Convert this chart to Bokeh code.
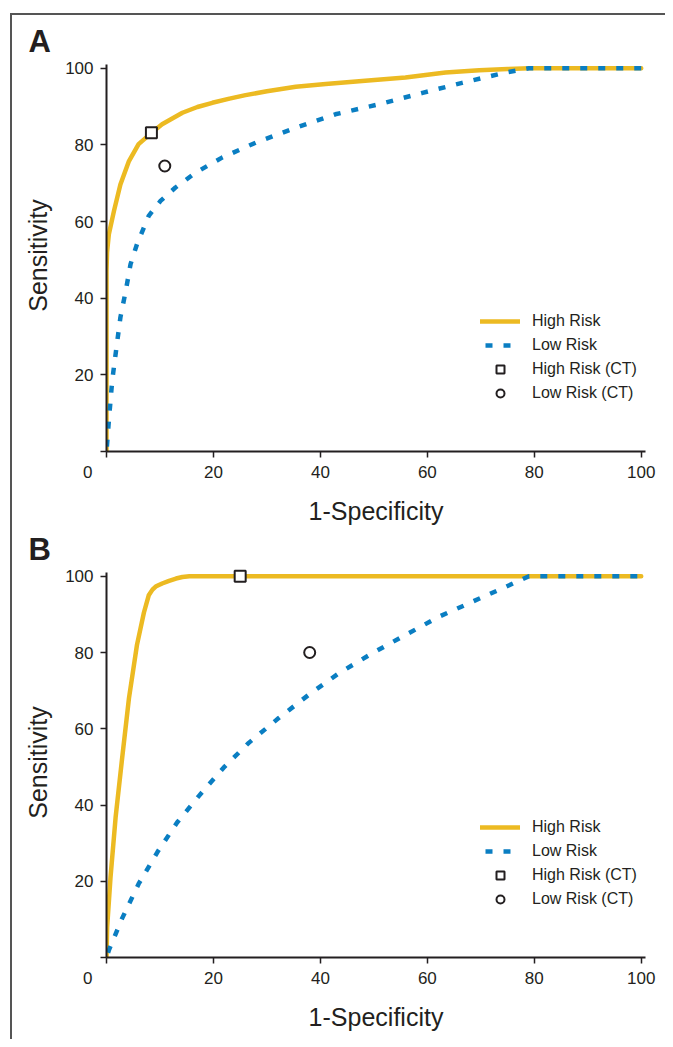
from bokeh.plotting import figure
from bokeh.models import Legend, LegendItem, FixedTicker, Range1d
from bokeh.layouts import column
from bokeh.embed import file_html
from bokeh.resources import INLINE

# ---------------- data ----------------
ticks = [0, 20, 40, 60, 80, 100]
# the shared origin "0" sits left of the corner, as in the original
x_tick_labels = {0: "0" + "\u00a0" * 8, 20: "20", 40: "40", 60: "60", 80: "80", 100: "100"}
y_tick_labels = {0: "", 20: "20", 40: "40", 60: "60", 80: "80", 100: "100"}

# Panel A
a_high_x = [0, 0, 0.1, 0.44, 1.4, 2.6, 4.2, 6.0, 8.2, 10.4, 14.2, 17.0, 19.8, 23.0, 26.0, 30.0, 35.4, 41.0, 47.8, 55.9, 63.4, 69.7, 75.0, 79.0, 100]
a_high_y = [0, 47, 52, 56.7, 62.8, 69.7, 75.8, 80.2, 82.9, 85.4, 88.4, 89.9, 91.0, 92.1, 93.0, 94.0, 95.2, 95.9, 96.7, 97.6, 98.9, 99.5, 99.8, 100, 100]
a_low_x = [0, 0.44, 1.06, 1.7, 2.6, 3.6, 4.5, 5.7, 7.9, 10.1, 12.9, 16.7, 21.6, 27.9, 35.4, 42.8, 50.9, 59.1, 66.5, 74.6, 79.0, 100]
a_low_y = [0, 8, 18.4, 25.4, 35, 41.9, 48.9, 54.1, 61.5, 65.4, 68.9, 72.8, 76.7, 80.6, 84.5, 88.0, 90.6, 93.6, 96.2, 98.9, 100, 100]
a_ct_high = (8.4, 83.2)
a_ct_low = (10.9, 74.5)

# Panel B
b_high_x = [0, 0.12, 0.75, 1.7, 2.9, 4.2, 5.7, 7.0, 7.9, 8.6, 9.2, 10.4, 11.7, 13.0, 14.2, 15.5, 100]
b_high_y = [0, 8, 21, 36.7, 52, 68, 82, 90.5, 95.0, 96.5, 97.3, 98.1, 98.8, 99.4, 99.8, 100, 100]
b_low_x = [0, 0.44, 2.9, 6.0, 9.5, 13.2, 17.3, 21.9, 26.6, 32.2, 37.8, 43.5, 49.7, 55.9, 62.2, 68.4, 74.6, 79.0, 100]
b_low_y = [0, 1.9, 10.2, 19.3, 27.6, 35.4, 42.4, 49.8, 56.3, 62.8, 68.9, 74.6, 79.8, 84.6, 89.4, 93.3, 97.2, 100, 100]
b_ct_high = (25.0, 100.0)
b_ct_low = (38.0, 80.0)

series_names = ["High Risk", "Low Risk", "High Risk (CT)", "Low Risk (CT)"]
x_label = "1-Specificity"
y_label = "Sensitivity"

# ---------------- style ----------------
YELLOW = "#ECBA22"
BLUE = "#0A7EC2"
INK = "#231F20"
SANS = "Liberation Sans"


def make_panel(letter, hx, hy, lx, ly, cth, ctl, height, top, bottom, title_standoff):
    p = figure(width=653, height=height, output_backend="svg", toolbar_location=None,
               x_range=Range1d(0, 100.8), y_range=Range1d(0, 102.3),
               min_border_left=94, min_border_right=20,
               min_border_top=top, min_border_bottom=bottom)
    p.outline_line_color = None
    p.xgrid.visible = False
    p.ygrid.visible = False
    p.background_fill_color = "white"
    p.border_fill_color = "white"

    p.title.text = letter
    p.title.align = "left"
    p.title.offset = -78
    p.title.text_font = SANS
    p.title.text_font_size = "31px"
    p.title.text_font_style = "bold"
    p.title.text_color = INK
    p.title.standoff = title_standoff

    for ax in (p.xaxis[0], p.yaxis[0]):
        ax.ticker = FixedTicker(ticks=ticks)
        ax.axis_line_color = INK
        ax.axis_line_width = 2
        ax.major_tick_line_color = INK
        ax.major_tick_line_width = 1.5
        ax.major_tick_out = 6
        ax.major_tick_in = 0
        ax.minor_tick_line_color = None
        ax.major_label_text_font = SANS
        ax.major_label_text_font_size = "17px"
        ax.major_label_text_color = INK
        ax.axis_label_text_font = SANS
        ax.axis_label_text_font_size = "25px"
        ax.axis_label_text_font_style = "normal"
        ax.axis_label_text_color = INK
    p.xaxis.major_label_overrides = x_tick_labels
    p.yaxis.major_label_overrides = y_tick_labels
    p.xaxis.bounds = (0, 100.8)
    p.yaxis.bounds = (0, 101)
    p.xaxis.axis_label = x_label
    p.yaxis.axis_label = y_label
    p.xaxis.major_label_standoff = 5
    p.xaxis.axis_label_standoff = 12
    p.yaxis.major_label_standoff = 7
    p.yaxis.axis_label_standoff = 10

    r_high = p.line(hx, hy, line_color=YELLOW, line_width=4.5, line_join="round", line_cap="round")
    r_low = p.line(lx, ly, line_color=BLUE, line_width=4.5, line_dash="7 11", line_dash_offset=13)
    r_sq = p.scatter([cth[0]], [cth[1]], marker="square", size=11, fill_color="white",
                     line_color=INK, line_width=2)
    r_ci = p.scatter([ctl[0]], [ctl[1]], marker="circle", size=11, fill_color="white",
                     line_color=INK, line_width=2)

    legend = Legend(items=[LegendItem(label=series_names[0], renderers=[r_high]),
                           LegendItem(label=series_names[1], renderers=[r_low]),
                           LegendItem(label=series_names[2], renderers=[r_sq]),
                           LegendItem(label=series_names[3], renderers=[r_ci])],
                    location=(374, 48), padding=0, margin=0, spacing=4,
                    glyph_width=40, glyph_height=20, label_height=20, label_standoff=12,
                    border_line_color=None, background_fill_alpha=0,
                    label_text_font=SANS, label_text_font_size="16px", label_text_color=INK)
    p.add_layout(legend)
    return p


pA = make_panel("A", a_high_x, a_high_y, a_low_x, a_low_y, a_ct_high, a_ct_low, 513, 44, 77, 1)
pB = make_panel("B", b_high_x, b_high_y, b_low_x, b_low_y, b_ct_high, b_ct_low, 511, 38, 82, 2)

layout = column(pA, pB, spacing=0, margin=(13, 0, 0, 10),
                styles={"border-top": "2px solid #555555", "border-left": "2px solid #555555"})

open("out.html", "w").write(file_html(layout, INLINE))
